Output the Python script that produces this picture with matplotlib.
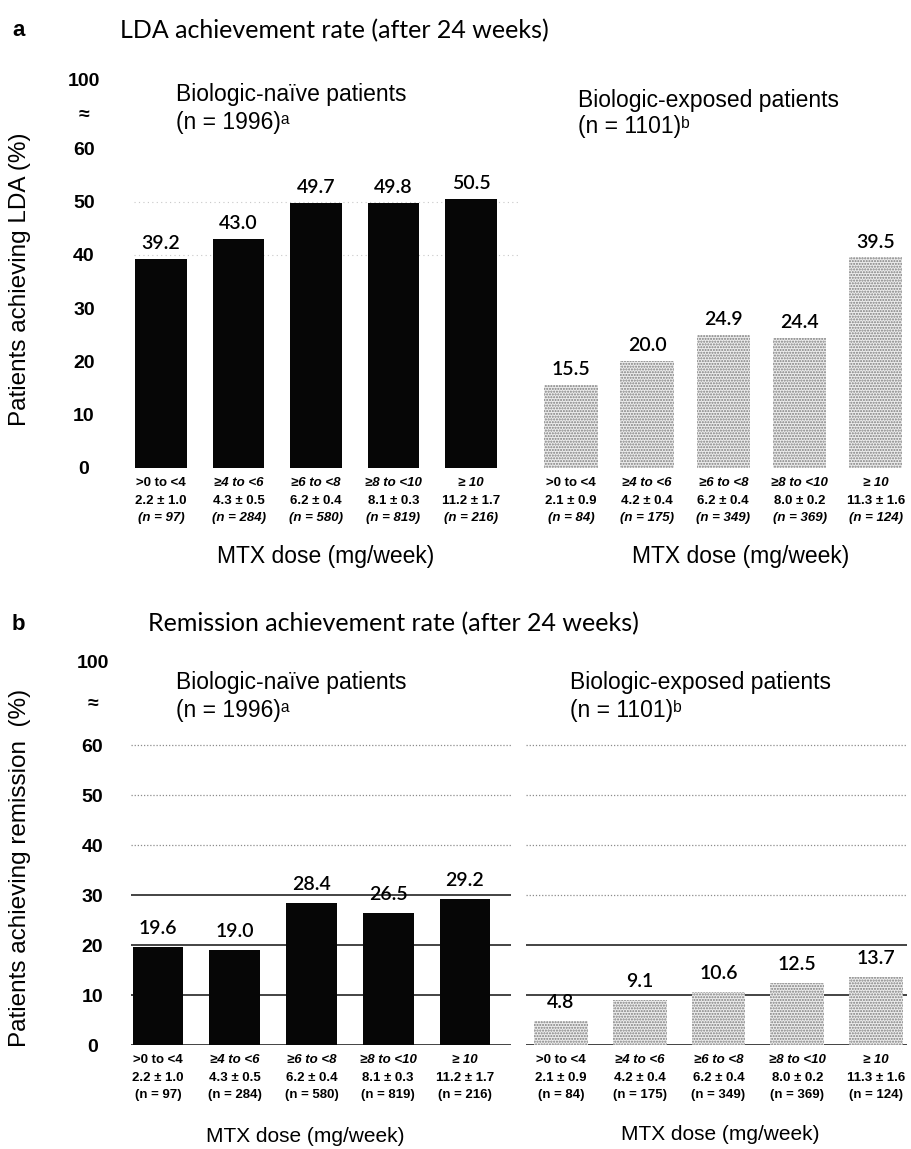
import matplotlib
matplotlib.use("Agg")
import matplotlib.pyplot as plt

# ---- data ----
dose_ranges = [">0 to <4", "≥4 to <6", "≥6 to <8", "≥8 to <10", "≥ 10"]

naive_dose = ["2.2 ± 1.0", "4.3 ± 0.5", "6.2 ± 0.4", "8.1 ± 0.3", "11.2 ± 1.7"]
naive_n = [97, 284, 580, 819, 216]
exposed_dose = ["2.1 ± 0.9", "4.2 ± 0.4", "6.2 ± 0.4", "8.0 ± 0.2", "11.3 ± 1.6"]
exposed_n = [84, 175, 349, 369, 124]

lda_naive = [39.2, 43.0, 49.7, 49.8, 50.5]
lda_exposed = [15.5, 20.0, 24.9, 24.4, 39.5]
rem_naive = [19.6, 19.0, 28.4, 26.5, 29.2]
rem_exposed = [4.8, 9.1, 10.6, 12.5, 13.7]

ytick_vals = [0, 10, 20, 30, 40, 50, 60]

W, H = 912, 1149
fig = plt.figure(figsize=(W / 100, H / 100), dpi=100)

ARIAL = ["Liberation Sans", "DejaVu Sans"]
CALIBRI = ["Lato", "DejaVu Sans"]


def add_ax(x0, x1, ytop, ybot):
    return fig.add_axes([x0 / W, 1 - ybot / H, (x1 - x0) / W, (ybot - ytop) / H])


def ftext(x, y, s, **kw):
    return fig.text(x / W, 1 - y / H, s, **kw)


def style(ax, ylim, xlim):
    ax.set_ylim(*ylim)
    ax.set_xlim(*xlim)
    for sp in ax.spines.values():
        sp.set_visible(False)
    ax.tick_params(length=0)
    ax.set_xticks([])


def draw_bars(ax, vals, dose, ns, dark, width, lab_size, lab_off, italic_n):
    xs = list(range(len(vals)))
    if dark:
        bars = ax.bar(xs, vals, width=width, color="#060606", zorder=3)
    else:
        bars = ax.bar(xs, vals, width=width, facecolor="#ededed", edgecolor="#7d7d7d",
                      hatch="......", linewidth=0, zorder=3)
    for b, v in zip(bars, vals):
        ax.annotate(f"{v:.1f}", (b.get_x() + b.get_width() / 2, v),
                    xytext=(0, lab_off), textcoords="offset points",
                    ha="center", va="bottom", fontsize=lab_size,
                    fontweight="semibold", family=CALIBRI)
    for i, x in enumerate(xs):
        kw = dict(xycoords=("data", "axes fraction"), textcoords="offset points",
                  ha="center", va="center", fontsize=9.5, fontweight="bold", family=ARIAL)
        ax.annotate(dose_ranges[i], (x, 0), xytext=(0, -11),
                    style="normal" if i == 0 else "italic", **kw)
        ax.annotate(dose[i], (x, 0), xytext=(0, -24), **kw)
        ax.annotate(f"(n = {ns[i]})", (x, 0), xytext=(0, -36),
                    style="italic" if italic_n else "normal", **kw)


def yticks(ax, brk, top, pad):
    ax.set_yticks(ytick_vals + [brk, top])
    ax.set_yticklabels([str(v) for v in ytick_vals] + ["≈", "100"],
                       fontsize=14, fontweight="bold", family=ARIAL)
    for lbl in ax.get_yticklabels():
        lbl.set_ha("center")
    ax.tick_params(axis="y", pad=pad)


# ================= panel a =================
a0, a_scale = 468, 5.33
a_top = a0 - 78 * a_scale
axL = add_ax(114.5, 517.5, a_top, a0)
axR = add_ax(529, 910, a_top, a0)
style(axL, (0, 78), (-0.6, 4.6))
style(axR, (0, 78), (-0.55, 4.45))
axR.set_yticks([])
yticks(axL, 66.6, 72.8, 22)

axL.hlines([40, 50], -0.35, 4.6, colors="#c8c8c8", linestyles=(0, (1, 3)), linewidth=0.8, zorder=1)

draw_bars(axL, lda_naive, naive_dose, naive_n, True, 0.67, 14, 5, True)
draw_bars(axR, lda_exposed, exposed_dose, exposed_n, False, 0.7, 14, 5, True)

ftext(12, 31, "a", fontsize=16, fontweight="bold", family=ARIAL, va="center")
ftext(120, 31, "LDA achievement rate (after 24 weeks)", fontsize=18, family=CALIBRI, va="center")
ftext(176, 95, "Biologic-naïve patients", fontsize=16.5, family=ARIAL, va="center")
ftext(176, 122, "(n = 1996)ᵃ", fontsize=16.5, family=ARIAL, va="center")
ftext(578, 101, "Biologic-exposed patients", fontsize=16.5, family=ARIAL, va="center")
ftext(578, 127, "(n = 1101)ᵇ", fontsize=16.5, family=ARIAL, va="center")
ftext(20, 279, "Patients achieving LDA (%)", fontsize=17.5, family=ARIAL,
      rotation=90, ha="center", va="center")
ftext(326, 556, "MTX dose (mg/week)", fontsize=16.5, family=ARIAL, ha="center", va="center")
ftext(741, 556, "MTX dose (mg/week)", fontsize=16.5, family=ARIAL, ha="center", va="center")

# ================= panel b =================
b0, b_scale = 1045, 5.0
b_top = b0 - 80 * b_scale
bxL = add_ax(112, 511, b_top, b0)
bxR = add_ax(525.6, 907.5, b_top, b0)
style(bxL, (0, 80), (-0.6, 4.6))
style(bxR, (0, 80), (-0.45, 4.4))
bxR.set_yticks([])
yticks(bxL, 68.4, 76.6, 14)

dotted = dict(colors="#8c8c8c", linestyles=(0, (1, 1.5)), linewidth=0.9, zorder=1)
solid = dict(colors="#111111", linestyles="-", linewidth=1.1, zorder=1)
bxL.hlines([40, 50, 60], -0.35, 4.6, **dotted)
bxL.hlines([0, 10, 20, 30], -0.35, 4.6, **solid)
bxR.hlines([30, 40, 50, 60], -0.45, 4.4, **dotted)
bxR.hlines([0, 10, 20], -0.45, 4.4, **solid)

draw_bars(bxL, rem_naive, naive_dose, naive_n, True, 0.66, 14, 7, False)
draw_bars(bxR, rem_exposed, exposed_dose, exposed_n, False, 0.68, 14, 7, False)

ftext(12, 624, "b", fontsize=16, fontweight="bold", family=ARIAL, va="center")
ftext(148, 624, "Remission achievement rate (after 24 weeks)", fontsize=18, family=CALIBRI, va="center")
ftext(176, 683, "Biologic-naïve patients", fontsize=16.5, family=ARIAL, va="center")
ftext(176, 710, "(n = 1996)ᵃ", fontsize=16.5, family=ARIAL, va="center")
ftext(570, 683, "Biologic-exposed patients", fontsize=16.5, family=ARIAL, va="center")
ftext(570, 710, "(n = 1101)ᵇ", fontsize=16.5, family=ARIAL, va="center")
ftext(20, 868, "Patients achieving remission  (%)", fontsize=17.5, family=ARIAL,
      rotation=90, ha="center", va="center")
ftext(305, 1137, "MTX dose (mg/week)", fontsize=15, family=ARIAL, ha="center", va="center")
ftext(720, 1135, "MTX dose (mg/week)", fontsize=15, family=ARIAL, ha="center", va="center")

fig.savefig("out.png", dpi=100)
